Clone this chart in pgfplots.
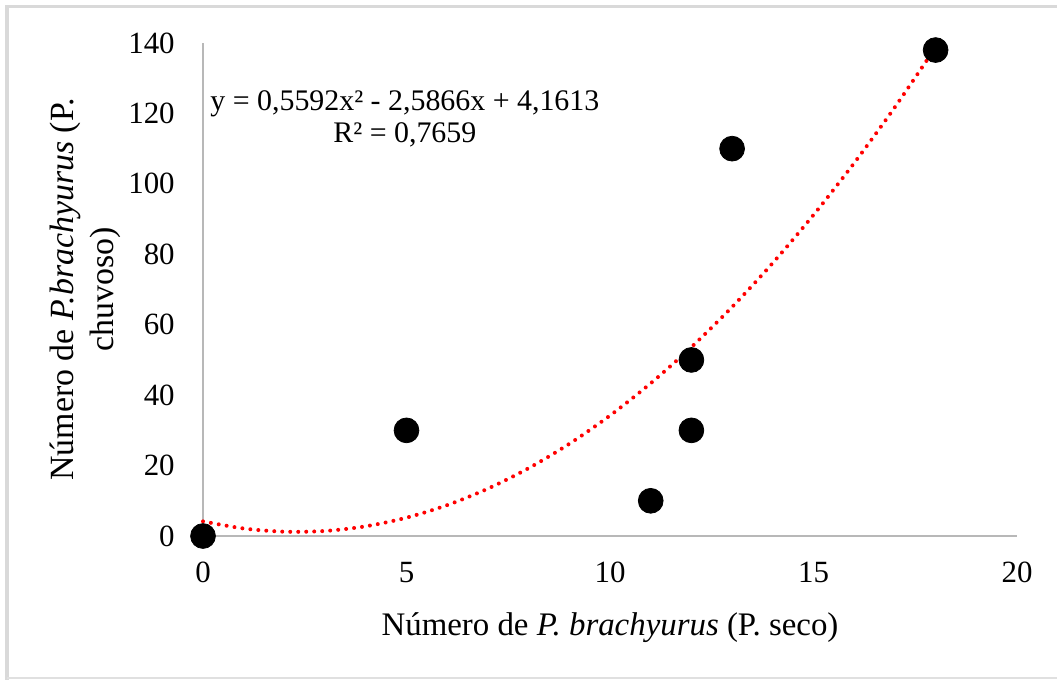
\documentclass[border=0pt]{standalone}
\usepackage{pgfplots}
\pgfplotsset{compat=1.18}
\usepackage{fontspec}
\setmainfont{Liberation Serif}
\begin{document}
\begin{tikzpicture}[x=0.5bp,y=-0.5bp]
\fontsize{15}{17}\selectfont
\useasboundingbox (0,0) rectangle (1057,680);
\draw[color=black!15, line width=1.5bp] (7,680) -- (7,7) -- (1057,7);
\draw[color=black!12, line width=1bp] (7,678) -- (1057,678);
\begin{axis}[
  at={(101.5bp,-268bp)}, anchor=south west,
  scale only axis, width=407bp, height=246.5bp,
  xmin=0, xmax=20, ymin=0, ymax=140,
  xtick={0,5,10,15,20}, ytick={0,20,40,60,80,100,120,140},
  axis lines=left, axis line style={-, draw=black!28, line width=0.8bp},
  major tick length=0pt,
  tick label style={font=\fontsize{15.5}{17}\selectfont},
  /pgf/number format/assume math mode=true,
  yticklabel style={xshift=-9bp},
  xticklabel style={yshift=-8bp},
  clip=false,
  xlabel={Número de \textit{P. brachyurus} (P. seco)},
  xlabel style={at={(axis description cs:0.5,-0.1866)}, anchor=center, font=\fontsize{16.5}{18}\selectfont},
  ylabel={Número de \textit{P.brachyurus} (P.\\ chuvoso)},
  ylabel style={at={(axis description cs:-0.145,0.5)}, anchor=center, align=center, font=\fontsize{17}{20}\selectfont},
]
\addplot[only marks, mark=*, mark size=6.2bp, mark options={fill=black, draw=black}] coordinates {
  (0,0) (5,30) (11,10) (12,30) (12,50) (13,110) (18,138)
};
\addplot[red, line width=2bp, line cap=round, dash pattern=on 0pt off 4bp, smooth] coordinates {
  (0,4.1613) (1,2.1339) (2,1.2249) (3,1.4343) (4,2.7621) (5,5.2083)
  (6,8.7729) (7,13.4559) (8,19.2573) (9,26.1771) (10,34.2153)
  (11,43.3719) (12,53.6469) (13,65.0403) (14,77.5521) (15,91.1823)
  (16,105.9309) (17,121.7979) (18,138.7833)
};
\node[align=center, font=\fontsize{15}{16}\selectfont] at (rel axis cs:0.248,0.846) {y = 0,5592x² - 2,5866x + 4,1613\\R² = 0,7659};
\end{axis}
\end{tikzpicture}
\end{document}
